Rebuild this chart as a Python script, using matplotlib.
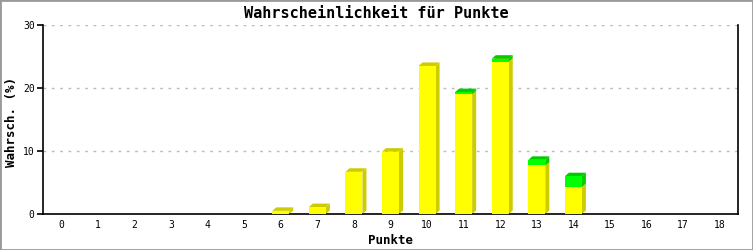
import numpy as np
import matplotlib.pyplot as plt
from matplotlib.patches import Polygon

punkte = list(range(19))
gelb = [0, 0, 0, 0, 0, 0, 0.5, 1.1, 6.7, 9.9, 23.5, 19.0, 24.2, 7.7, 4.3, 0, 0, 0, 0]
gruen = [0, 0, 0, 0, 0, 0, 0, 0, 0, 0, 0, 0.35, 0.45, 0.9, 1.7, 0, 0, 0, 0]

W, H = 753, 250
fig = plt.figure(figsize=(W / 100, H / 100), dpi=100)
ax = fig.add_axes([43 / W, 1 - 214 / H, (738 - 43) / W, (214 - 25) / H])

mono = 'DejaVu Sans Mono'
xmin, xmax = -0.5, 18.5
ymin, ymax = 0, 30
ax.set_xlim(xmin, xmax)
ax.set_ylim(ymin, ymax)

# pixel -> data units for the 3D offset
px_x = (xmax - xmin) / (738 - 43)
px_y = (ymax - ymin) / (214 - 25)
dx, dy = 4 * px_x, 3.5 * px_y
bw = 17 * px_x

for y in [10, 20, 30]:
    ax.axhline(y, color='#bbbbbb', lw=1, ls=(0, (2, 4)), zorder=0)


def box(x, y0, h, front, dark):
    l, r = x - bw / 2, x + bw / 2
    top = y0 + h
    ax.add_patch(Polygon([(r, y0), (r + dx, y0 + dy), (r + dx, top + dy), (r, top)],
                         closed=True, fc=dark, ec='none', zorder=2))
    ax.add_patch(Polygon([(l, top), (l + dx, top + dy), (r + dx, top + dy), (r, top)],
                         closed=True, fc=dark, ec='none', zorder=2))
    ax.bar(x, h, bottom=y0, width=bw, color=front, edgecolor='none', zorder=3)


for x, g, gr in zip(punkte, gelb, gruen):
    if g > 0:
        box(x, 0, g, '#ffff00', '#cccc00')
    if gr > 0:
        box(x, g, gr, '#00ff00', '#00cc00')

ax.spines['top'].set_visible(False)
for s in ['left', 'bottom', 'right']:
    ax.spines[s].set_linewidth(1.2)
    ax.spines[s].set_color('black')

ax.set_xticks(punkte)
ax.set_xticklabels([str(p) for p in punkte], fontsize=7, family=mono)
ax.tick_params(axis='x', length=0, pad=4)
ax.set_yticks([0, 10, 20, 30])
ax.set_yticklabels(['0', '10', '20', '30'], fontsize=7, family=mono)
ax.tick_params(axis='y', length=4, width=1.2, pad=2)

ax.set_xlabel('Punkte', fontsize=9, fontweight='bold', family=mono, labelpad=3)
fig.text(12 / W, 1 - 122 / H, 'Wahrsch. (%)', rotation=90, ha='center', va='center',
         fontsize=9, fontweight='bold', family=mono)
fig.text(0.5, 1 - 13 / H, 'Wahrscheinlichkeit für Punkte', ha='center', va='center',
         fontsize=11, fontweight='bold', family=mono)

fig.patches.append(plt.Rectangle((0, 0), 1, 1, transform=fig.transFigure,
                                 fill=False, ec='#999999', lw=2))

fig.savefig('out.png', dpi=100)
